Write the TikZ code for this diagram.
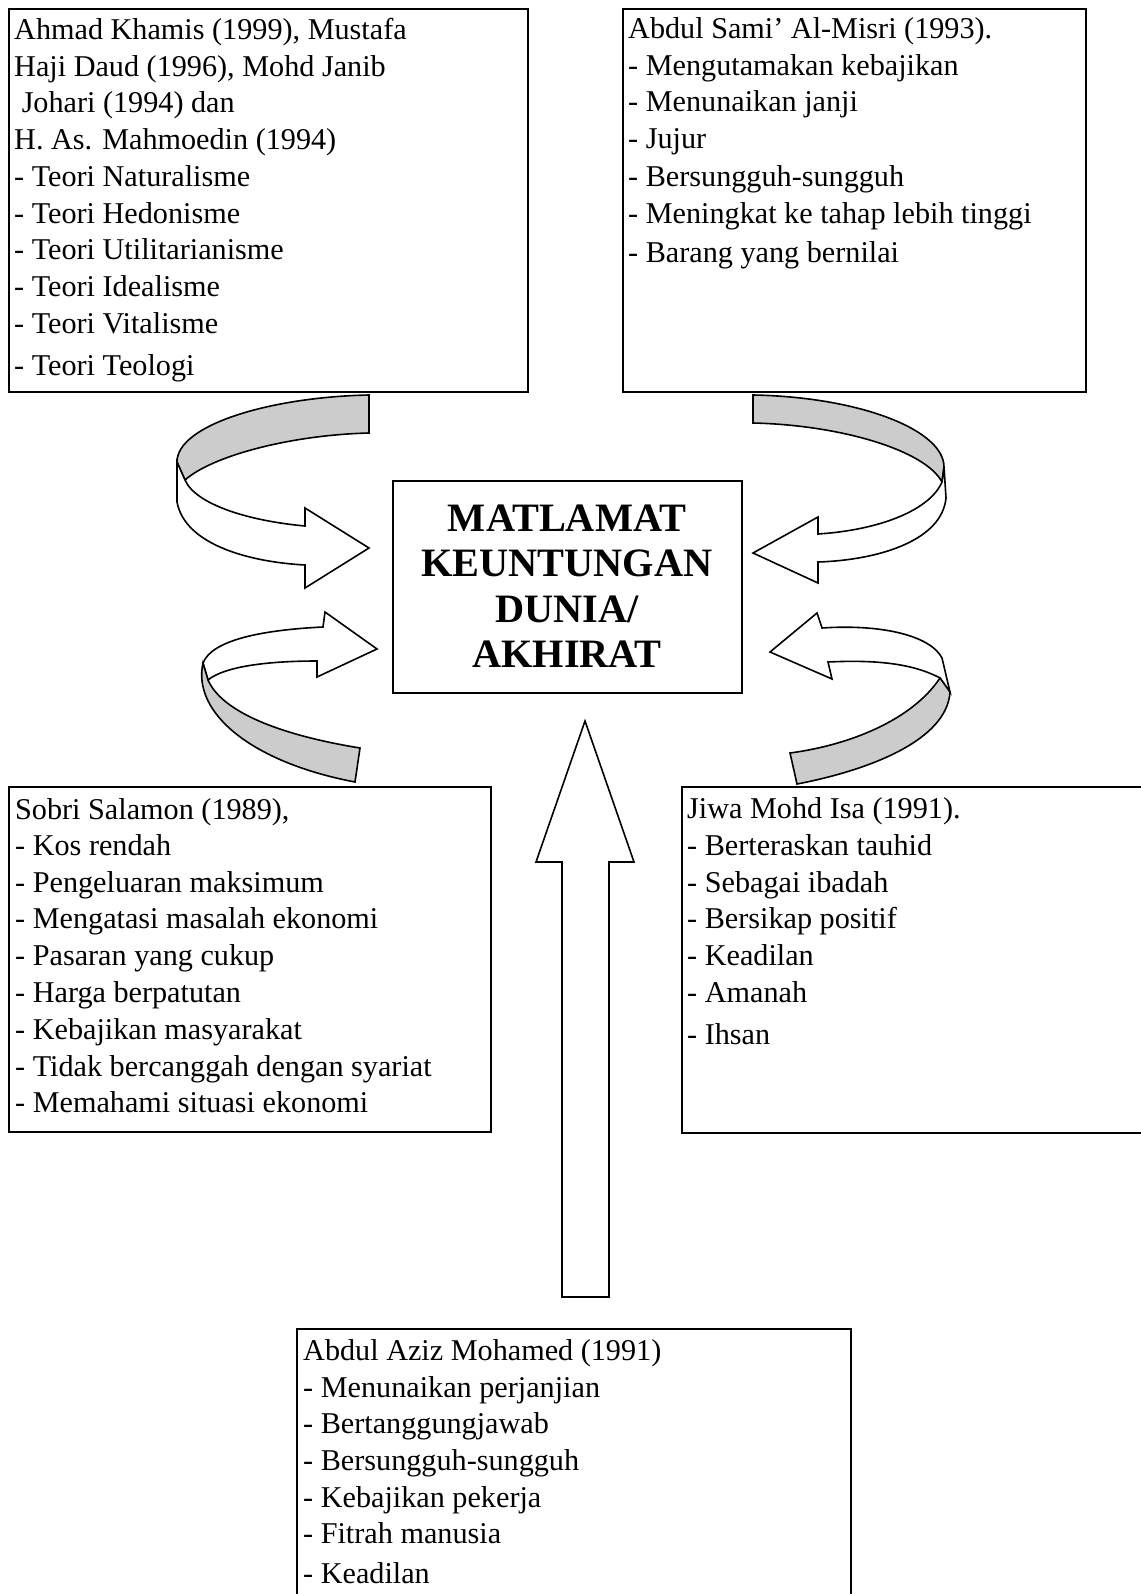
\documentclass[tikz,border=0pt]{standalone}
\usepackage{fontspec}
\setmainfont{Liberation Serif}
\definecolor{bandgray}{RGB}{204,204,204}
\begin{document}
\begin{tikzpicture}[x=1pt,y=-1pt,
  boxst/.style={draw, line width=1.8pt, anchor=north west, inner sep=0pt, outer sep=0pt},
  txt/.style={anchor=base west, inner sep=0pt, font=\fontsize{30.2pt}{36pt}\selectfont},
  ttl/.style={anchor=base, inner sep=0pt, font=\fontsize{40.3pt}{45pt}\selectfont\bfseries},
  arr/.style={draw, line width=1.6pt, line join=miter, fill=white},
  band/.style={draw, line width=1.6pt, line join=miter, fill=bandgray}]
\fill[white] (0,0) rectangle (1140,1594);
\useasboundingbox (0,0) rectangle (1140,1594);

% boxes
\node[boxst, minimum width=519pt, minimum height=383pt] (box1) at (9,9) {};
\node[boxst, minimum width=463pt, minimum height=383pt] (box2) at (623,9) {};
\node[boxst, minimum width=349pt, minimum height=212pt] (mid) at (393,481) {};
\node[boxst, minimum width=482pt, minimum height=345pt] (box3) at (9,787) {};
\node[boxst, minimum width=470pt, minimum height=346pt] (box4) at (682,787) {};
\node[boxst, minimum width=554pt, minimum height=290pt] (box5) at (297,1329) {};

% centre title
\node[ttl] (t1) at (567,531) {MATLAMAT};
\node[ttl] (t2) at (567,576) {KEUNTUNGAN};
\node[ttl] (t3) at (567,622) {DUNIA/};
\node[ttl] (t4) at (567,667) {AKHIRAT};

% box texts
\foreach \y/\t [count=\i] in {40/{Ahmad Khamis (1999), Mustafa}, 76.5/{Haji Daud (1996), Mohd Janib}, 113/{\ Johari (1994) dan}, 149.5/{H. As. Mahmoedin (1994)}, 187/{- Teori Naturalisme}, 223.5/{- Teori Hedonisme}, 260/{- Teori Utilitarianisme}, 297/{- Teori Idealisme}, 333.5/{- Teori Vitalisme}, 375/{- Teori Teologi}}
  \node[txt] (a\i) at (14,\y) {\t};

\foreach \y/\t [count=\i] in {39/{Abdul Sami’ Al-Misri (1993).}, 75.5/{- Mengutamakan kebajikan}, 112/{- Menunaikan janji}, 149/{- Jujur}, 187/{- Bersungguh-sungguh}, 223.5/{- Meningkat ke tahap lebih tinggi}, 263/{- Barang yang bernilai}}
  \node[txt] (b\i) at (628,\y) {\t};

\foreach \y/\t [count=\i] in {819/{Sobri Salamon (1989),}, 855.5/{- Kos rendah}, 892/{- Pengeluaran maksimum}, 928.5/{- Mengatasi masalah ekonomi}, 965.5/{- Pasaran yang cukup}, 1002.5/{- Harga berpatutan}, 1039.5/{- Kebajikan masyarakat}, 1076/{- Tidak bercanggah dengan syariat}, 1112.5/{- Memahami situasi ekonomi}}
  \node[txt] (c\i) at (15,\y) {\t};

\foreach \y/\t [count=\i] in {818/{Jiwa Mohd Isa (1991).}, 855.5/{- Berteraskan tauhid}, 892/{- Sebagai ibadah}, 928.5/{- Bersikap positif}, 965.5/{- Keadilan}, 1002.5/{- Amanah}, 1044/{- Ihsan}}
  \node[txt] (d\i) at (687,\y) {\t};

\foreach \y/\t [count=\i] in {1360/{Abdul Aziz Mohamed (1991)}, 1397/{- Menunaikan perjanjian}, 1433/{- Bertanggungjawab}, 1470/{- Bersungguh-sungguh}, 1507/{- Kebajikan pekerja}, 1543/{- Fitrah manusia}, 1583/{- Keadilan}}
  \node[txt] (e\i) at (303,\y) {\t};

% top-left curved arrow
\draw[band] (369,395) .. controls (270,397) and (177,425) .. (177,462) -- (185,480) .. controls (212,456) and (290,435) .. (369,433) -- cycle;
\draw[arr] (177,462) -- (177,502) .. controls (185,545) and (250,562) .. (305,565) -- (305,588) -- (369,548) -- (305,508) -- (305,526) .. controls (250,521) and (196,505) .. (185,480) -- cycle;

% top-right curved arrow
\draw[band] (753,395) .. controls (860,397) and (944,430) .. (944,467) -- (942,482) .. controls (925,450) and (840,425) .. (753,423) -- cycle;
\draw[arr] (944,467) -- (946,498) .. controls (942,540) and (880,560) .. (818,562) -- (818,583) -- (753,553) -- (818,517) -- (818,534) .. controls (880,530) and (930,510) .. (942,482) -- cycle;

% bottom-left curved arrow
\draw[arr] (203,663) .. controls (212,640) and (262,630) .. (323,627) -- (325,612) -- (377,649) -- (317,677) -- (317,661) .. controls (270,661) and (225,666) .. (208,680) -- cycle;
\draw[band] (203,663) .. controls (192,712) and (250,762) .. (355,782) -- (360,748) .. controls (280,735) and (222,712) .. (208,680) -- cycle;

% bottom-right curved arrow
\draw[arr] (942,658) .. controls (930,635) and (880,624) .. (822,628) -- (817,613) -- (770,652) -- (832,679) -- (828,662) .. controls (870,660) and (910,662) .. (940,678) -- (950,692) -- cycle;
\draw[band] (940,678) .. controls (912,720) and (850,745) .. (790,753) -- (797,784) .. controls (870,770) and (947,740) .. (950,692) -- cycle;

% upward block arrow
\draw[arr] (585,721) -- (634,862) -- (609,862) -- (609,1297) -- (562,1297) -- (562,862) -- (536,862) -- cycle;
\end{tikzpicture}
\end{document}
